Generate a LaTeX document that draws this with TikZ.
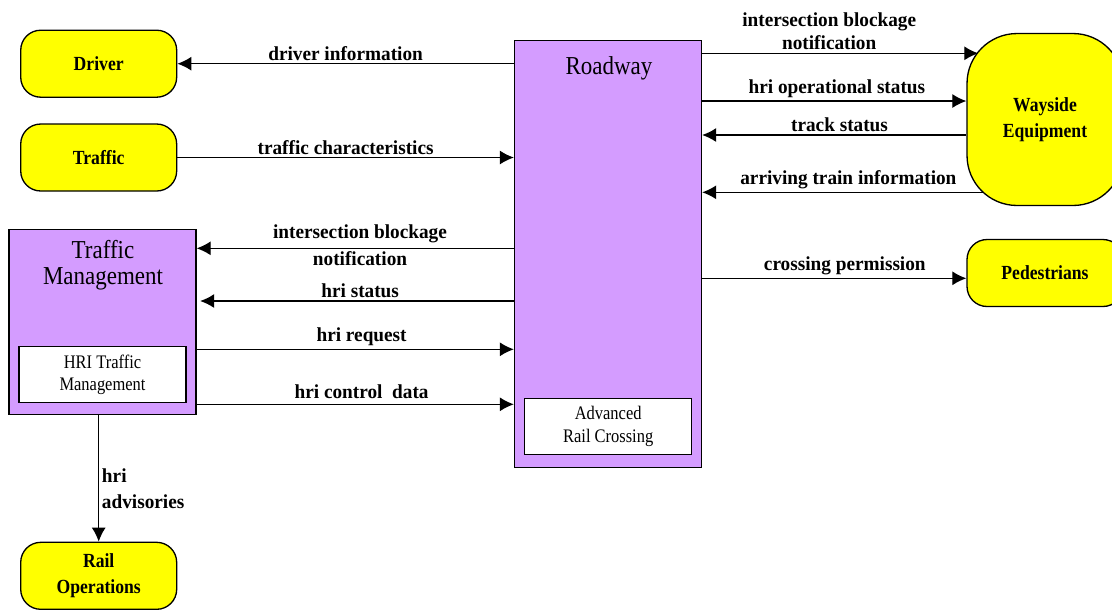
\documentclass[tikz,border=0pt]{standalone}
\usepackage{fontspec}
\setmainfont{Liberation Serif}
\newfontfamily\flowfont[FakeStretch=0.97]{Liberation Serif}
\newfontfamily\extfont[FakeStretch=0.88]{Liberation Serif}
\newfontfamily\titlefont[FakeStretch=0.89]{Liberation Serif}
\newfontfamily\subfont[FakeStretch=0.86]{Liberation Serif}
\usetikzlibrary{arrows.meta}
\definecolor{extyellow}{RGB}{255,255,0}
\definecolor{syspurple}{RGB}{212,156,255}

\tikzset{
  ext/.style={draw, fill=extyellow, rounded corners=0.4cm, minimum width=3.12cm, minimum height=1.34cm, align=center, inner sep=0pt, font=\fontsize{11.4pt}{14.8pt}\extfont\bfseries},
  sys/.style={draw, fill=syspurple, minimum width=3.74cm, inner sep=0pt},
  sub/.style={draw, fill=white, minimum width=3.34cm, minimum height=1.12cm, align=center, inner sep=0pt, font=\fontsize{10.9pt}{12.8pt}\subfont},
  systitle/.style={align=center, inner sep=0pt, font=\fontsize{14.7pt}{14.8pt}\titlefont},
  flow/.style={font=\fontsize{11.3pt}{13pt}\flowfont\bfseries, inner sep=1.5pt, align=center}
}

\begin{document}
\begin{tikzpicture}[x=0.02cm, y=-0.02cm, line width=0.75pt]
  \tikzset{>={Latex[length=8pt,width=8pt]}}
  \useasboundingbox (0,0) rectangle (1112,610);

  \node[ext] (driver) at (98.7,63.7) {Driver};
  \node[ext] (traffic) at (98.7,157.5) {Traffic};
  \node[ext] (railops) at (98.7,575.8) {Rail\\Operations};
  \node[ext, rounded corners=1cm, minimum height=3.44cm] (wayside) at (1045,119.5) {Wayside\\Equipment};
  \node[ext] (pedestrians) at (1045,273) {Pedestrians};

  \node[sys, minimum height=8.53cm] (roadway) at (608,254) {};
  \node[systitle] (roadwaytitle) at (609,68) {Roadway};
  \node[sub] (arc) at (608.2,426.2) {Advanced\\Rail Crossing};

  \node[sys, minimum height=3.7cm] (tm) at (102.5,321.8) {};
  \node[systitle] (tmtitle) at (103,265) {Traffic\\Management};
  \node[sub] (hritm) at (102.5,374.7) {HRI Traffic\\Management};

  % left side
  \draw[<-] (driver.east) -- (driver.east -| roadway.west) node[flow, midway, above] {driver information};
  \draw[->] (traffic.east) -- (traffic.east -| roadway.west) node[flow, midway, above] {traffic characteristics};
  \draw[<-] (tm.east |- 0,248.3) -- (roadway.west |- 0,248.3) node[flow, pos=.515, above, inner sep=3pt] {intersection blockage} node[flow, pos=.515, below] {notification};
  \draw[<-] ([xshift=2pt]tm.east |- 0,301) -- (roadway.west |- 0,301) node[flow, pos=.51, above] {hri status};
  \draw[->] (tm.east |- 0,349.3) -- (roadway.west |- 0,349.3) node[flow, pos=.52, above] {hri request};
  \draw[->] (tm.east |- 0,404.3) -- (roadway.west |- 0,404.3) node[flow, pos=.52, above, inner sep=3pt] {hri control~ data};
  \draw[->] (railops.north |- tm.south) -- (railops.north) node[flow, pos=.58, right, align=left] {hri\\[2pt]advisories};

  % right side
  \draw[->] (roadway.east |- 0,53.3) -- ([xshift=0.24cm]wayside.west |- 0,53.3) node[flow, pos=.46, above] {intersection blockage\\notification};
  \draw[->] (roadway.east |- 0,101) -- (wayside.west |- 0,101) node[flow, pos=.51, above] {hri operational status};
  \draw[<-] (roadway.east |- 0,135) -- (wayside.west |- 0,135) node[flow, pos=.52, above] {track status};
  \draw[<-] (roadway.east |- 0,192.3) -- ([xshift=0.34cm]wayside.west |- 0,192.3) node[flow, pos=.52, above] {arriving train information};
  \draw[->] (roadway.east |- 0,278.3) -- (pedestrians.west |- 0,278.3) node[flow, pos=.54, above] {crossing permission};
\end{tikzpicture}
\end{document}
